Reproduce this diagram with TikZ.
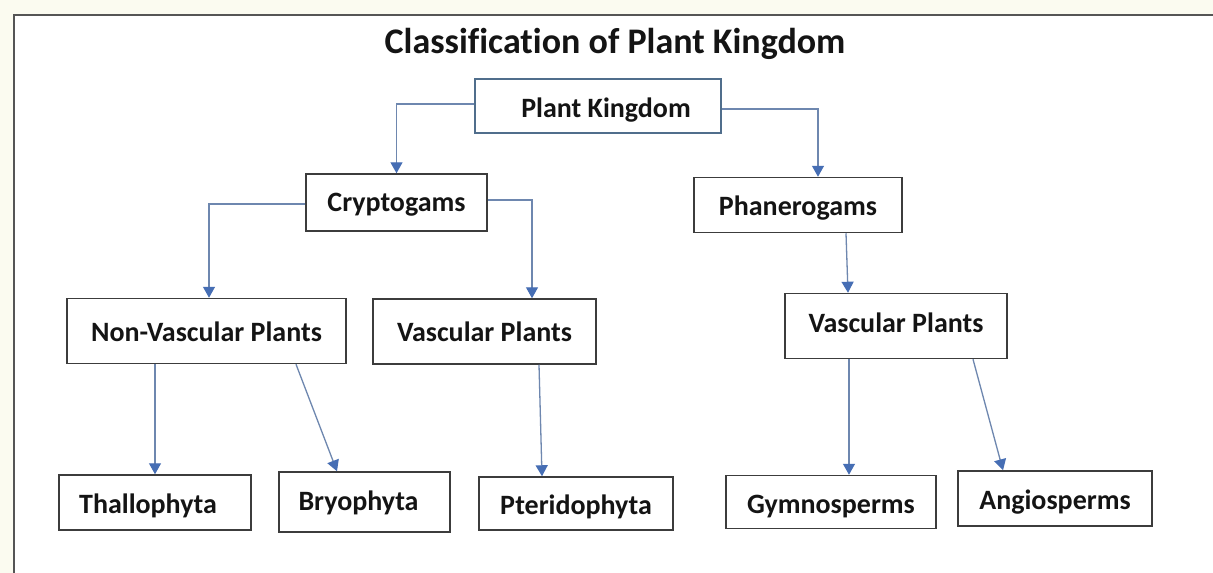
\documentclass[tikz,border=0pt]{standalone}
\usepackage{fontspec}
\setmainfont{Carlito}[Ligatures=NoCommon]
\usetikzlibrary{arrows.meta,calc}
\definecolor{cream}{RGB}{251,251,240}
\definecolor{framec}{RGB}{85,85,85}
\definecolor{boxc}{RGB}{60,60,60}
\definecolor{pkc}{RGB}{80,110,140}
\definecolor{linec}{RGB}{110,135,175}
\definecolor{tipc}{RGB}{70,110,180}
\definecolor{txtc}{RGB}{20,20,20}
\newcommand{\bl}[2]{\raisebox{-#1pt}[0pt][0pt]{#2}}
\tikzset{
  box/.style={draw=boxc, line width=1.5pt, fill=white, inner sep=0pt,
    font=\fontsize{28}{30}\selectfont\bfseries, text=txtc},
  conn/.style={draw=linec, line width=1.3pt,
    -{Triangle[width=12pt,length=11pt,color=tipc]}},
}
\begin{document}
\begin{tikzpicture}[x=1pt,y=-1pt]
\useasboundingbox (0,0) rectangle (1213,573);
\fill[cream] (0,0) rectangle (1213,573);
\fill[white] (14,15) rectangle (1213,573);
\draw[framec, line width=2pt] (14,580) -- (14,15) -- (1220,15);

\node[font=\fontsize{36}{38}\selectfont\bfseries, text=txtc, anchor=base, inner sep=0pt] (title) at (615,53) {Classification of Plant Kingdom};

\node[box, draw=pkc, minimum width=246pt, minimum height=54pt] (pk) at (598,106) {\bl{11}{\hspace{16pt}Plant Kingdom}};
\node[box, minimum width=181pt, minimum height=57pt] (crypt) at (396.5,202.5) {\bl{8.5}{Cryptogams}};
\node[box, minimum width=208pt, minimum height=55pt] (phan) at (798,205) {\bl{10}{Phanerogams}};
\node[box, minimum width=279pt, minimum height=65pt] (nv) at (206.5,331) {\bl{10}{Non-Vascular Plants}};
\node[box, minimum width=223pt, minimum height=65pt] (vl) at (484.5,331.5) {\bl{9.5}{Vascular Plants}};
\node[box, minimum width=222pt, minimum height=65pt] (vr) at (896,326) {\bl{6}{Vascular Plants}};
\node[box, minimum width=192pt, minimum height=55pt] (thal) at (155,502.5) {\bl{10.5}{Thallophyta\hspace{14pt}}};
\node[box, minimum width=171pt, minimum height=60pt] (bryo) at (364.5,502) {\bl{8}{Bryophyta\hspace{12pt}}};
\node[box, minimum width=194pt, minimum height=53pt] (pter) at (576,503.5) {\bl{10.5}{Pteridophyta}};
\node[box, minimum width=210pt, minimum height=53pt] (gym) at (831,502) {\bl{11}{Gymnosperms}};
\node[box, minimum width=194pt, minimum height=55pt] (ang) at (1055,498.5) {\bl{10.5}{Angiosperms}};

\draw[conn] ([yshift=2pt]pk.west) -| (crypt.north);
\draw[conn] ([yshift=-3pt]pk.east) -| ([xshift=20pt]phan.north);
\draw[conn] ([yshift=-1.5pt]crypt.west) -| ([xshift=2.5pt]nv.north);
\draw[conn] ([yshift=2.5pt]crypt.east) -| ([xshift=47.5pt]vl.north);
\draw[conn] ([xshift=48pt]phan.south) -- ([xshift=-48pt]vr.north);
\draw[conn] ([xshift=-51.5pt]nv.south) -- (thal.north);
\draw[conn] ([xshift=89.5pt]nv.south) -- ([xshift=-27.5pt]bryo.north);
\draw[conn] ([xshift=54.5pt]vl.south) -- ([xshift=-34pt]pter.north);
\draw[conn] ([xshift=-47pt]vr.south) -- ([xshift=18pt]gym.north);
\draw[conn] ([xshift=77pt]vr.south) -- ([xshift=-52pt]ang.north);
\end{tikzpicture}
\end{document}
